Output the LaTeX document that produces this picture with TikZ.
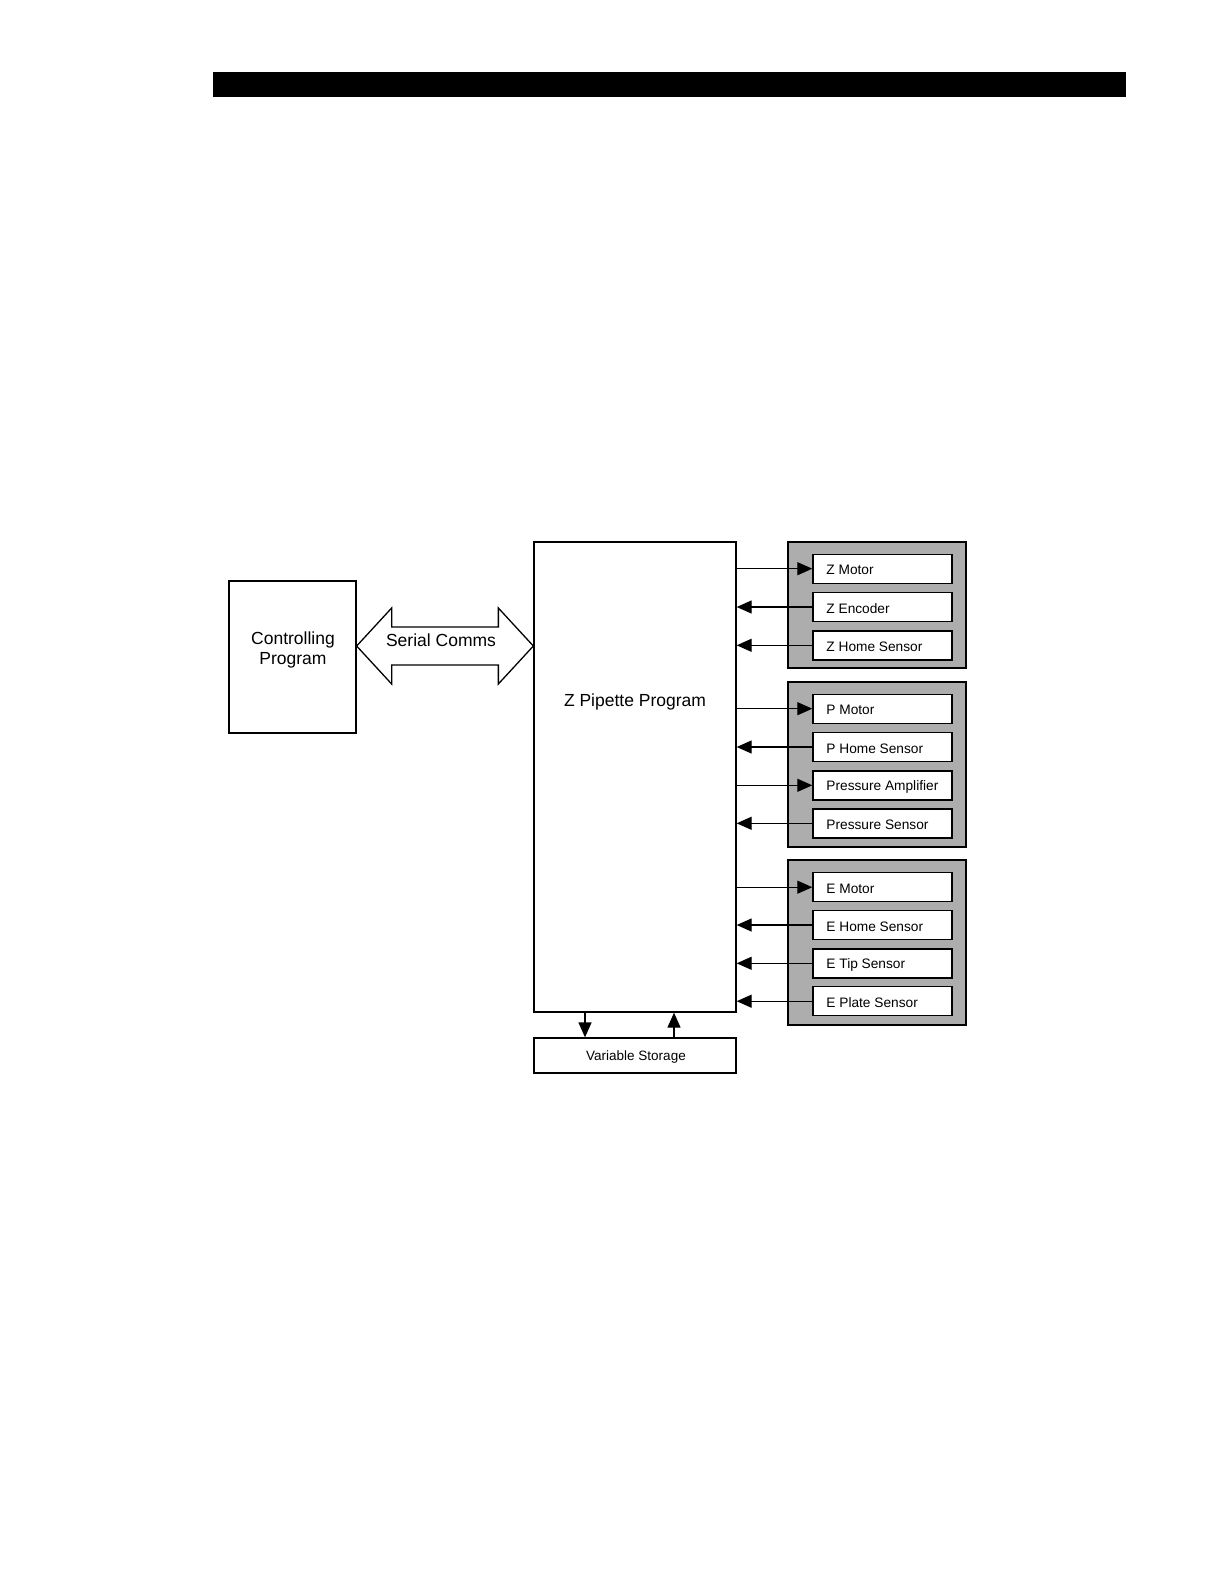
\documentclass[tikz,border=0pt]{standalone}
\usepackage{fontspec}
\setmainfont{Liberation Sans}
\usetikzlibrary{arrows.meta,calc}
\begin{document}
\begin{tikzpicture}[x=1pt,y=-1pt,line width=1.3pt,
  box/.style={draw,line width=1.3pt,inner sep=0pt},
  grp/.style={draw,line width=1.8pt,fill=black!32},
  dev/.style={draw,fill=white,line width=1.4pt,minimum width=139pt,minimum height=29pt,inner sep=0pt},
  lbl/.style={anchor=west,font=\fontsize{13.7}{16}\selectfont,inner sep=0pt},
  tip/.style={-{Triangle[length=15pt,width=13pt]}},
  big/.style={font=\fontsize{17.5}{20}\selectfont,inner sep=0pt}]
\useasboundingbox (0,0) rectangle (1224,1584);
\fill (213,72) rectangle (1126,97);
% main boxes
\node[box,minimum width=127pt,minimum height=152pt] (ctrl) at (292.5,657) {};
\node[big,align=center] (ctrltxt) at (293,650) {Controlling\\Program};
\node[box,minimum width=202pt,minimum height=470pt] (main) at (635,777) {};
\node[big] (maintxt) at (635,702) {Z Pipette Program};
\node[box,minimum width=202pt,minimum height=35pt] (vs) at (635,1055.5) {};
\node[font=\fontsize{13.5}{16}\selectfont,inner sep=0pt] (vstxt) at (636,1057) {Variable Storage};
% serial comms double arrow
\coordinate (yarr) at (0,646);
\coordinate (sl) at (ctrl.east |- yarr);
\coordinate (sr) at (main.west |- yarr);
\draw[line width=1.3pt,line join=miter] (sl) -- ++(35,-38) -- ++(0,19) -- ($(sr)+(-35,-19)$) -- ++(0,-19) -- (sr)
  -- ++(-35,38) -- ++(0,-19) -- ($(sl)+(35,19)$) -- ++(0,19) -- cycle;
\node[big] (sc) at (441,640) {Serial Comms};
% groups
\draw[grp] (788,542) rectangle (966,668);
\draw[grp] (788,682) rectangle (966,847);
\draw[grp] (788,860) rectangle (966,1025);
% devices
\foreach \n/\y/\t in {zm/568.7/Z Motor, ze/607/Z Encoder, zh/645.3/Z Home Sensor,
  pm/708.7/P Motor, ph/747/P Home Sensor, pa/785.3/Pressure Amplifier, ps/823.3/Pressure Sensor,
  em/887.2/E Motor, eh/925/E Home Sensor, et/963.3/E Tip Sensor, ep/1001.2/E Plate Sensor}{
  \node[dev] (\n) at (882.5,\y) {};
  \node[lbl] (\n t) at ($(\n.west)+(13.5,1.5)$) {\t};
}
% connectors
\foreach \n in {zm,pm,pa,em}{
  \draw[tip] (main.east |- \n.west) -- (\n.west);
}
\foreach \n in {ze,zh,ph,ps,eh,et,ep}{
  \draw[tip] (\n.west) -- (main.east |- \n.west);
}
\coordinate (xd) at (585,0);
\coordinate (xu) at (674,0);
\draw[tip] (main.south -| xd) -- (vs.north -| xd);
\draw[tip] (vs.north -| xu) -- (main.south -| xu);
\end{tikzpicture}
\end{document}
